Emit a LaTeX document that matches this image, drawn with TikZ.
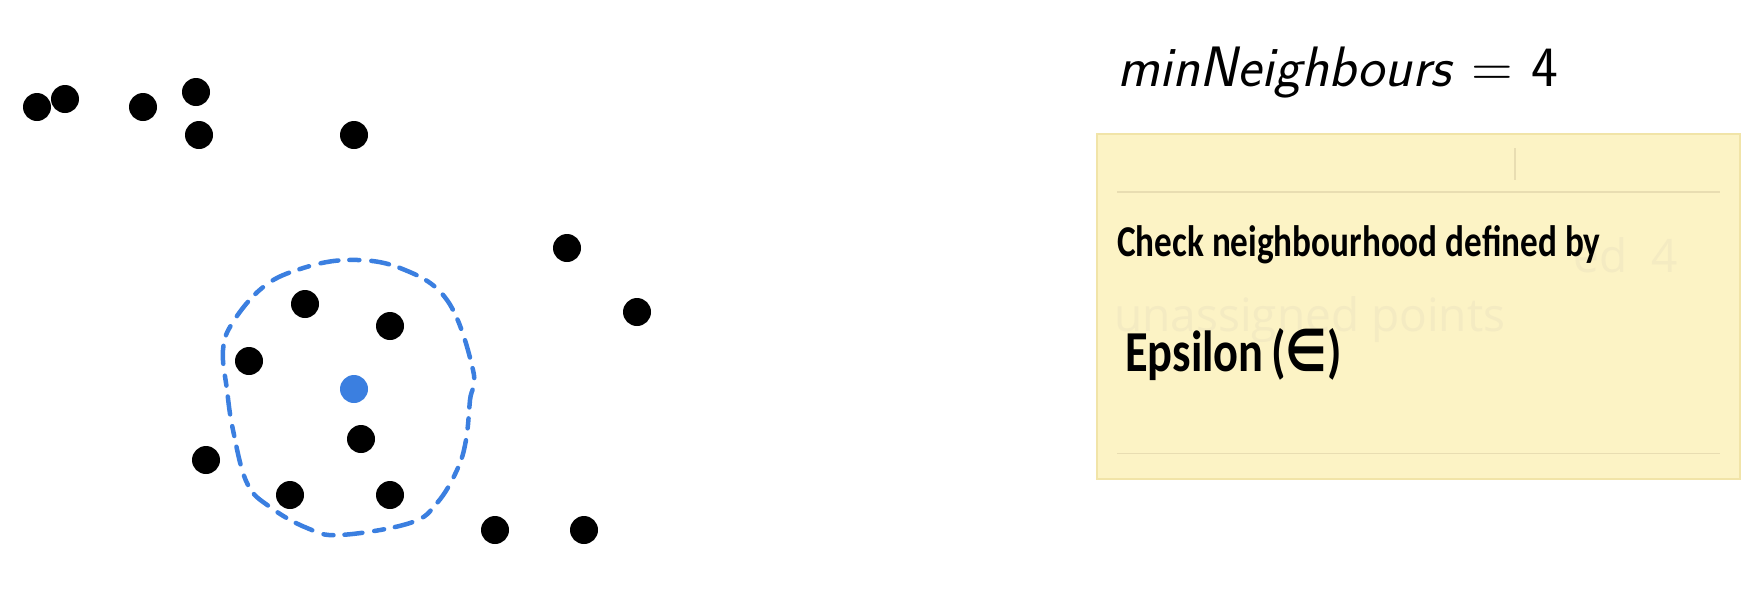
\documentclass[tikz,border=0pt]{standalone}
\usepackage{fontspec}
\newfontfamily\handfont{Carlito}
\newfontfamily\ghostfont{Open Sans}
\newfontfamily\symbfont{DejaVu Sans}
\usetikzlibrary{%
    calc,
    positioning
}
\definecolor{epsblue}{HTML}{3B7FE0}
\definecolor{notefill}{HTML}{FCF3C5}
\definecolor{noteedge}{HTML}{F1E4A8}
\definecolor{noterule}{HTML}{E8DDB2}
\definecolor{ghost}{HTML}{F4EBC2}

\newcommand{\handwrite}[1]{\scalebox{0.8}[1]{#1}}

\tikzset{
    dot/.style={circle, fill=black, inner sep=0pt, minimum size=28pt},
    core/.style={dot, fill=epsblue},
    notebox/.style={draw=noteedge, fill=notefill, line width=1.5pt,
                    inner sep=0pt, minimum width=643pt, minimum height=345pt,
                    anchor=north west},
    noteline/.style={draw=noterule, line width=1.2pt},
    hand/.style={font=\handfont\bfseries\fontsize{44}{48}\selectfont,
                 anchor=base west, inner sep=0pt},
    ghosttext/.style={font=\ghostfont\fontsize{46}{50}\selectfont,
                      text=ghost, inner sep=0pt},
    epsring/.style={draw=epsblue, line width=4.5pt, line cap=round,
                    dash pattern=on 18pt off 11pt on 10pt off 12pt},
}

\begin{document}
\begin{tikzpicture}[x=1pt, y=-1pt]
    \useasboundingbox (0,0) rectangle (1764,598);

    % points of the data set
    \foreach \Name/\X/\Y in {%
        a/37/107, b/65/99, c/143/107, d/196/92, e/199/135, f/354/135,
        g/567/248, h/637/312, i/305/304, j/390/326, k/249/361,
        l/361/439, m/206/460, n/290/495, o/390/495, p/495/530, q/584/530%
        }
        \node[dot] (\Name) at (\X,\Y) {};
    \node[core] (centre) at (354,389) {};

    % epsilon neighbourhood, drawn by hand
    \draw[epsring] plot[smooth cycle, tension=0.65] coordinates {%
        (347,260) (400,268) (447,300) (473,370) (470,400) (466,440)
        (457,470) (437,503) (410,523) (340,535) (307,528) (270,507)
        (247,483) (233,430) (227,390) (223,350) (233,322) (262,288)
        (297,270)};

    % minimum number of neighbours
    \node[font=\sffamily\fontsize{57}{62}\selectfont, anchor=base west,
          inner sep=0pt]
        (minpts) at (1117,86) {\itshape minNeighbours\/ \upshape= 4};

    % sticky note
    \node[notebox] (note) at (1096,133) {};
    \draw[noteline] ($(note.north west)+(21,59)$) -- ($(note.north east)+(-21,59)$);
    \draw[noteline] ($(note.south west)+(21,-26)$) -- ($(note.south east)+(-21,-26)$);
    \draw[noteline] ($(note.north west)+(419,15)$) -- ($(note.north west)+(419,47)$);

    \node[ghosttext, anchor=base east] (hidden1) at (1678,272) {ed\ \ 4};
    \node[ghosttext, anchor=base west] (hidden2) at (1114,331) {unassigned points};

    \node[hand] (check) at (1117,256) {\handwrite{Check neighbourhood defined by}};
    \node[hand, font=\handfont\bfseries\fontsize{58}{62}\selectfont]
        (epsilon) at (1125,371) {\handwrite{Epsilon\,({\symbfont ∈})}};
\end{tikzpicture}
\end{document}
